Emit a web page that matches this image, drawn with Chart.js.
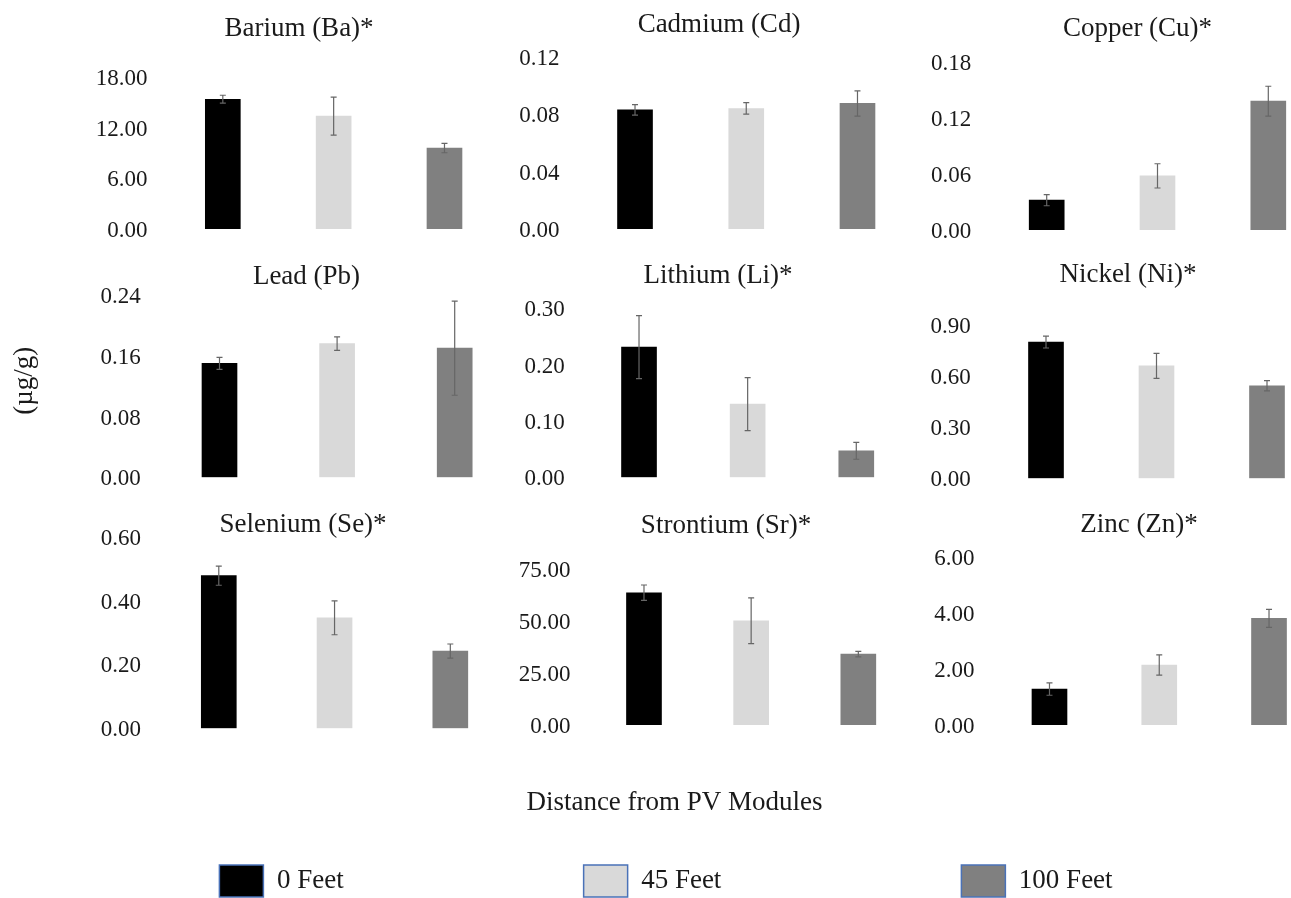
<!DOCTYPE html>
<html>
<head>
<meta charset="utf-8">
<script src="https://cdn.jsdelivr.net/npm/chart.js@4.4.1/dist/chart.umd.min.js"></script>
<style>
  body { margin: 0; background: #fff; overflow: hidden; }
  #page { position: relative; width: 1291px; height: 898px; overflow: hidden; background: #fff; }
  canvas { position: absolute; }
</style>
</head>
<body>
<div id="page"></div>
<script>
var elements = ['Barium (Ba)*', 'Cadmium (Cd)', 'Copper (Cu)*',
                'Lead (Pb)', 'Lithium (Li)*', 'Nickel (Ni)*',
                'Selenium (Se)*', 'Strontium (Sr)*', 'Zinc (Zn)*'];
var distances = ['0 Feet', '45 Feet', '100 Feet'];

// mean concentration (µg/g) at 0, 45, 100 feet
var meanValues = [
  [15.4, 13.4, 9.6],
  [0.083, 0.084, 0.0875],
  [0.032, 0.058, 0.138],
  [0.150, 0.176, 0.170],
  [0.231, 0.130, 0.047],
  [0.80, 0.66, 0.543],
  [0.478, 0.346, 0.242],
  [63.6, 50.1, 34.1],
  [1.28, 2.14, 3.80]
];
// +/- error for each bar
var errValues = [
  [0.47, 2.25, 0.55],
  [0.0037, 0.004, 0.0088],
  [0.006, 0.013, 0.016],
  [0.008, 0.009, 0.062],
  [0.056, 0.047, 0.015],
  [0.035, 0.073, 0.03],
  [0.030, 0.053, 0.022],
  [3.7, 11, 1.3],
  [0.22, 0.36, 0.32]
];
var axisMax = [18, 0.12, 0.18, 0.24, 0.30, 0.90, 0.60, 75, 6];
var axisStep = [6, 0.04, 0.06, 0.08, 0.10, 0.30, 0.20, 25, 2];

var barColors = ['#000000', '#d9d9d9', '#808080'];

// where each small chart sits on the page:
// plot left, plot right, plot top (max tick), plot bottom (zero), title x, title y
var panelBoxes = [
  [167.4, 499.9, 77.3, 229, 299, 26.5],
  [579.4, 913.1, 56.8, 229, 719, 23],
  [991.3, 1323.7, 62, 230, 1137.5, 26.5],
  [160.7, 513.5, 295, 477.3, 306.7, 275],
  [584.7, 910.6, 308.3, 477.3, 718, 274],
  [990.75, 1322.25, 325, 478.3, 1128, 273],
  [160.9, 508.2, 536.7, 728.3, 303, 523],
  [590.4, 911.9, 569, 725, 726, 524],
  [994.6, 1323.9, 556.7, 725, 1139, 523]
];

var TEXT = '#1a1a1a';
Chart.defaults.font.family = 'Liberation Serif';
Chart.defaults.color = TEXT;
Chart.defaults.animation = false;
Chart.defaults.responsive = false;
Chart.defaults.plugins.tooltip.enabled = false;

var page = document.getElementById('page');
function addCanvas(left, top, w, h) {
  var c = document.createElement('canvas');
  c.width = w;
  c.height = h;
  c.style.left = left + 'px';
  c.style.top = top + 'px';
  page.appendChild(c);
  return c.getContext('2d');
}

var errorBars = {
  id: 'errorBars',
  afterDatasetsDraw: function (chart, args, opts) {
    var ctx = chart.ctx;
    var y = chart.scales.y;
    var vals = chart.data.datasets[0].data;
    chart.getDatasetMeta(0).data.forEach(function (bar, i) {
      var hi = y.getPixelForValue(vals[i] + opts.errors[i]);
      var lo = y.getPixelForValue(vals[i] - opts.errors[i]);
      ctx.save();
      ctx.strokeStyle = '#666666';
      ctx.lineWidth = 1.2;
      ctx.beginPath();
      ctx.moveTo(bar.x, hi); ctx.lineTo(bar.x, lo);
      ctx.moveTo(bar.x - 3, hi); ctx.lineTo(bar.x + 3, hi);
      ctx.moveTo(bar.x - 3, lo); ctx.lineTo(bar.x + 3, lo);
      ctx.stroke();
      ctx.restore();
    });
  }
};

var hiddenAxis = {
  ticks: { display: false },
  grid: { display: false, drawTicks: false },
  border: { display: false }
};

// axis titles for the whole figure
var frameCtx = addCanvas(0, -60, 1320, 958);
new Chart(frameCtx, {
  type: 'scatter',
  data: { datasets: [] },
  options: {
    layout: { padding: { left: 8.8, right: 12.2, top: 34.5, bottom: 78.5 } },
    plugins: { legend: { display: false } },
    scales: {
      x: Object.assign({ type: 'linear', min: 0, max: 1,
        title: { display: true, text: 'Distance from PV Modules', font: { size: 27 }, padding: 0 } }, hiddenAxis),
      y: Object.assign({ type: 'linear', min: 0, max: 1,
        title: { display: true, text: '(µg/g)', font: { size: 27 }, padding: 0 } }, hiddenAxis)
    }
  }
});

// one small bar chart per element
elements.forEach(function (name, k) {
  var b = panelBoxes[k];
  var L = b[0], R = b[1], T = b[2], B = b[3], tx = b[4], ty = b[5];
  // the title is centred on the whole canvas, so widen it on the right
  var left = Math.floor(Math.min(2 * tx - R, L - 80));
  var w = Math.round(2 * (tx - left));
  var top = Math.round(ty - 16.2);
  var h = Math.round(B + 16 - top);
  var titleTop = ty - 16.2 - top + 2;
  var ctx = addCanvas(left, top, w, h);
  new Chart(ctx, {
    type: 'bar',
    data: {
      labels: distances,
      datasets: [{ data: meanValues[k], backgroundColor: barColors, barThickness: 35 }]
    },
    options: {
      layout: { padding: { left: 0, right: 0, top: 0, bottom: h - (B - top) } },
      plugins: {
        legend: { display: false },
        title: {
          display: true, text: name, color: TEXT,
          font: { size: 27, weight: 'normal', lineHeight: 1.2 },
          padding: { top: titleTop, bottom: (T - top) - titleTop - 32.4 }
        },
        errorBars: { errors: errValues[k] }
      },
      scales: {
        x: { display: false },
        y: {
          min: 0, max: axisMax[k],
          afterFit: function (s) { s.width = L - left; },
          ticks: {
            stepSize: axisStep[k], padding: 0, labelOffset: 2, color: TEXT,
            font: { size: 23 },
            callback: function (v) { return v.toFixed(2); }
          },
          grid: { display: false, drawTicks: true, tickLength: 20 },
          border: { display: false }
        },
        side: Object.assign({
          type: 'linear', position: 'right',
          afterFit: function (s) { s.width = left + w - R; }
        }, hiddenAxis)
      }
    },
    plugins: [errorBars]
  });
});

// legend along the bottom
var legendCtx = addCanvas(-60, 625, 1452, 600);
new Chart(legendCtx, {
  type: 'bar',
  data: {
    labels: [],
    datasets: distances.map(function (d, i) {
      return { label: d, data: [], backgroundColor: barColors[i], borderColor: '#4a72b8', borderWidth: 1.5 };
    })
  },
  options: {
    scales: { x: { display: false }, y: { display: false } },
    plugins: {
      legend: {
        position: 'top',
        labels: { boxWidth: 44, boxHeight: 32, padding: 240, color: TEXT, font: { size: 27 } }
      }
    }
  }
});
</script>
</body>
</html>
